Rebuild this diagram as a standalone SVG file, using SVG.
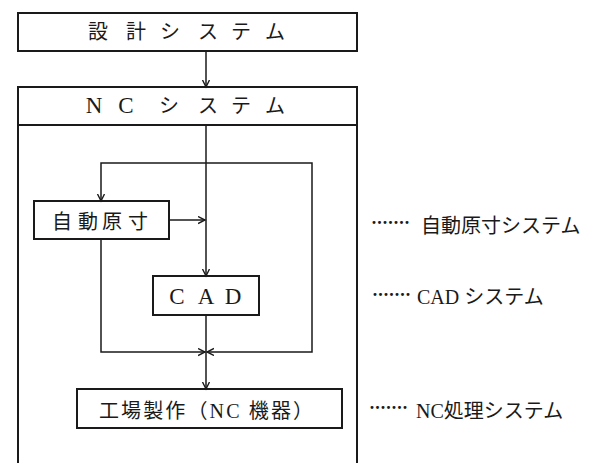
<svg xmlns="http://www.w3.org/2000/svg" width="601" height="463" viewBox="0 0 601 463">
<defs>
<marker id="arr" markerUnits="userSpaceOnUse" markerWidth="10" markerHeight="10" refX="7" refY="4" orient="auto">
<path d="M0,0.5 L7,4 L0,7.5" fill="none" stroke="#1a1a1a" stroke-width="1.4"/>
</marker>
<style>
.box{fill:#fff;stroke:#1a1a1a;stroke-width:2}
.frame{fill:none;stroke:#1a1a1a;stroke-width:2}
.ln{fill:none;stroke:#1a1a1a;stroke-width:1.5}
.t{font-family:"Liberation Serif","Noto Sans CJK JP",serif;fill:#1a1a1a}
.c{text-anchor:middle}
.d{font-family:"Liberation Serif",serif;font-size:18px;font-weight:bold;fill:#1a1a1a;text-anchor:middle}
</style>
</defs>
<rect width="601" height="463" fill="#fff"/>
<g id="design">
<rect class="box" x="18" y="13" width="339" height="38"/>
<text class="t c" font-size="20" y="39" x="98 136 170 208 241 275">設計システム</text>
</g>
<g id="nc">
<path class="frame" d="M18,463 L18,87 L357,87 L357,463"/>
<line class="frame" x1="18" y1="125" x2="357" y2="125"/>
<text class="t c" font-size="23" y="113" x="94 126">NC</text>
<text class="t c" font-size="20" y="113" x="169 208 241 275">システム</text>
</g>
<g id="jidou">
<rect class="box" x="34" y="201" width="135" height="38"/>
<text class="t c" font-size="20" y="229" x="62 88 112 138">自動原寸</text>
</g>
<g id="cad">
<rect class="box" x="153" y="276" width="106" height="39"/>
<text class="t c" font-size="23" y="304" x="177 206 233">CAD</text>
</g>
<g id="kojo">
<rect class="box" x="77" y="389" width="265" height="39"/>
<text class="t" font-size="20" y="418" x="99" textLength="214" lengthAdjust="spacing">工場製作（NC 機器）</text>
</g>
<g id="connectors">
<path class="ln" d="M206,51 L206,87" marker-end="url(#arr)"/>
<path class="ln" d="M206,125 L206,276" marker-end="url(#arr)"/>
<path class="ln" d="M206,315 L206,389" marker-end="url(#arr)"/>
<path class="ln" d="M206,163 L101,163 L101,201" marker-end="url(#arr)"/>
<path class="ln" d="M206,163 L312,163 L312,352 L207,352" marker-end="url(#arr)"/>
<path class="ln" d="M101,239 L101,352 L205,352" marker-end="url(#arr)"/>
<path class="ln" d="M169,220 L205,220" marker-end="url(#arr)"/>
</g>
<g id="labels">
<text class="d" y="229" x="374 379.5 385 390.5 396 401.5 407">·······</text>
<text class="t" font-size="20" y="233" x="421">自動原寸システム</text>
<text class="d" y="301" x="375 380.5 386 391.5 397 402.5 408">·······</text>
<text class="t" font-size="20" y="304" x="417">CAD システム</text>
<text class="d" y="414" x="372 377.5 383 388.5 394 399.5 405">·······</text>
<text class="t" font-size="20" y="418" x="416">NC処理システム</text>
</g>
</svg>
